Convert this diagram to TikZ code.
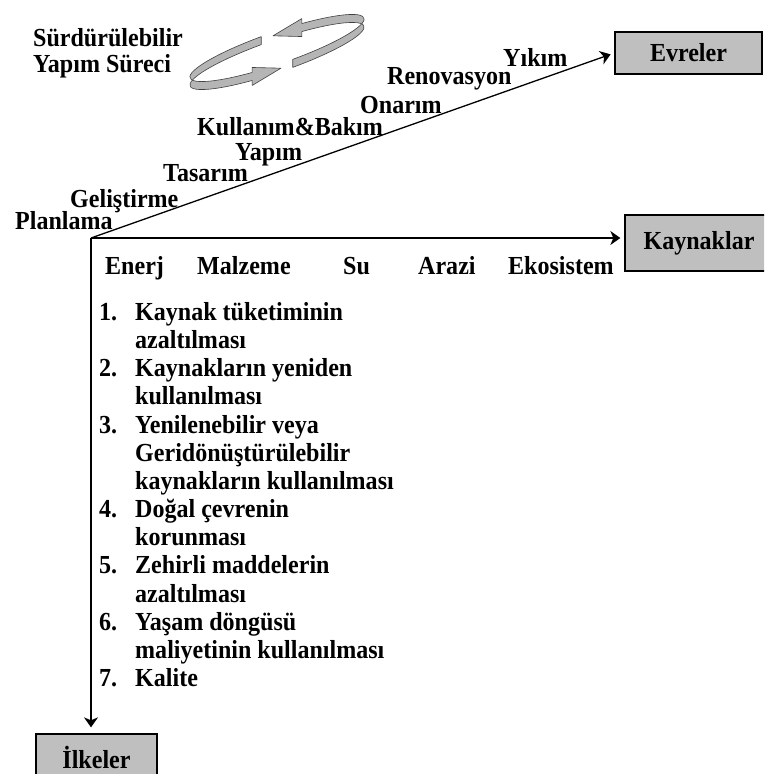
\documentclass[tikz,border=0pt]{standalone}
\usepackage{fontspec}
\setmainfont{Liberation Serif}[FakeStretch=0.925]
\usetikzlibrary{arrows.meta,calc}
\begin{document}
\begin{tikzpicture}[x=1pt,y=-1pt,
  lbl/.style={anchor=base west,inner sep=0pt,text=black,font=\fontsize{26}{30}\selectfont\bfseries},
  box/.style={draw=black,line width=1.3pt,fill=gray!50,inner sep=0pt,font=\fontsize{26}{30}\selectfont\bfseries},
  axis/.style={line width=1.3pt,-{Stealth[length=10pt,width=14pt,inset=3pt]}},
  ribbon/.style={fill=gray!58,draw=black!75,line width=0.6pt,line join=round}]
\useasboundingbox (0,0) rectangle (764,774);
\clip (0,0) rectangle (764,774);

% boxes
\node[box,minimum width=147pt,minimum height=42pt] (evreler) at (688.5,53) {Evreler};
\node[box,minimum width=148pt,minimum height=56pt] (kaynak) at (699,243) {Kaynaklar};
\node[box,minimum width=121pt,minimum height=46pt] (ilkeler) at (96.5,757) {İlkeler};

% axes
\coordinate (O) at (91,238);
\draw[axis,shorten >=4pt] (O) -- (evreler.west);
\draw[axis,shorten >=4pt] (O) -- (O -| kaynak.west);
\draw[axis,shorten >=6pt] (O) -- (O |- ilkeler.north);

% stage labels
\node[lbl] (s1) at (15,229) {Planlama};
\node[lbl] (s2) at (70,207) {Geliştirme};
\node[lbl] (s3) at (163,181) {Tasarım};
\node[lbl] (s4) at (235,160) {Yapım};
\node[lbl] (s5) at (197,135.5) {Kullanım\&Bakım};
\node[lbl] (s6) at (360,113) {Onarım};
\node[lbl] (s7) at (387,84) {Renovasyon};
\node[lbl] (s8) at (503,66) {Yıkım};

% title
\node[lbl] (t1) at (33,46) {Sürdürülebilir};
\node[lbl] (t2) at (33,72) {Yapım Süreci};

% resources
\node[lbl] (r1) at (105,274) {Enerj};
\node[lbl] (r2) at (197,274) {Malzeme};
\node[lbl] (r3) at (343,274) {Su};
\node[lbl] (r4) at (418,274) {Arazi};
\node[lbl] (r5) at (508,274) {Ekosistem};

% principles list
\foreach \n/\t [count=\i from 0] in {1./Kaynak tüketiminin, /azaltılması, 2./Kaynakların yeniden, /kullanılması, 3./Yenilenebilir veya, /Geridönüştürülebilir, /kaynakların kullanılması, 4./Doğal çevrenin, /korunması, 5./Zehirli maddelerin, /azaltılması, 6./Yaşam döngüsü, /maliyetinin kullanılması, 7./Kalite}{
  \node[lbl] (num\i) at (99,{320.5+28.15*\i}) {\n};
  \node[lbl] (li\i) at (135,{320.5+28.15*\i}) {\t};
}

% cycle symbol
\begin{scope}[shift={(277,48)},y=1pt,rotate=19]
  \path[ribbon] ({92*cos(277)},{16*sin(277)})
    arc[start angle=277,end angle=430,x radius=92,y radius=16]
    -- ++(1.63,4.73)
    -- ({92*cos(70)-4*0.326-30*0.9986},{16*sin(70)-4*0.946+30*0.052})
    -- ({92*cos(70)-13*0.326},{16*sin(70)-13*0.946})
    -- ({92*cos(70)-8*0.326},{16*sin(70)-8*0.946})
    arc[start angle=430,end angle=277,x radius=92,y radius=16]
    -- cycle;
  \path[ribbon] ({92*cos(97)},{16*sin(97)})
    arc[start angle=97,end angle=250,x radius=92,y radius=16]
    -- ++(1.63,4.73)
    -- ({92*cos(250)-4*0.326+30*0.9986},{16*sin(250)-4*0.946-30*0.052})
    -- ({92*cos(250)-13*0.326},{16*sin(250)-13*0.946})
    -- ({92*cos(250)-8*0.326},{16*sin(250)-8*0.946})
    arc[start angle=250,end angle=97,x radius=92,y radius=16]
    -- cycle;
\end{scope}
\end{tikzpicture}
\end{document}
